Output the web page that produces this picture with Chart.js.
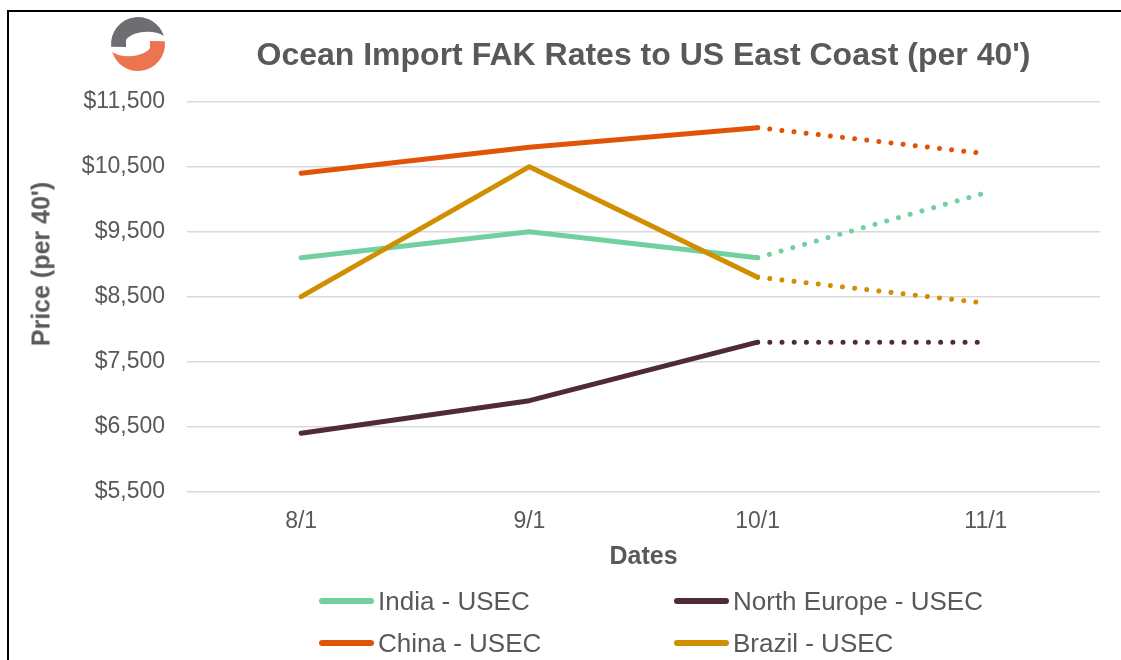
<!DOCTYPE html>
<html>
<head>
<meta charset="utf-8">
<script src="https://cdn.jsdelivr.net/npm/chart.js@4.4.0/dist/chart.umd.min.js"></script>
<style>
  html, body { margin: 0; padding: 0; background: #fff; overflow: hidden; }
  body { width: 1121px; height: 660px; position: relative; font-family: "Liberation Sans", Arial, sans-serif; }
  #frame { position: absolute; left: 7px; top: 10px; width: 1120px; height: 700px;
           border-top: 2px solid #000; border-left: 2px solid #000; box-sizing: border-box; }
  #chart { position: absolute; left: 0; top: 0; }
  #ytitle { position: absolute; left: 41px; top: 264px; transform: translate(-50%, -50%) rotate(-90deg);
            font-weight: bold; font-size: 25px; color: #595959; white-space: nowrap; }
  .leg { position: absolute; height: 30px; line-height: 30px; font-size: 26px; color: #595959; white-space: nowrap; }
  .leg .swatch { position: absolute; left: 0; top: 12px; width: 55px; height: 6px; border-radius: 3px; }
  .leg .txt { position: absolute; left: 59px; top: 0; }
</style>
</head>
<body>
<div id="frame"></div>
<canvas id="chart" width="1121" height="660"></canvas>
<div id="ytitle">Price (per 40')</div>
<div id="legend"></div>
<script>
const categories = ["8/1", "9/1", "10/1", "11/1"];
const india       = [9100, 9500, 9100, 10100];
const northEurope = [6400, 6900, 7800, 7800];
const china       = [10400, 10800, 11100, 10700];
const brazil      = [8500, 10500, 8800, 8400];

const seriesNames  = ["India - USEC", "North Europe - USEC", "China - USEC", "Brazil - USEC"];
const seriesValues = [india, northEurope, china, brazil];
const seriesColors = ["#72cf9e", "#4e2a3b", "#e15407", "#d08f00"];

const yMin = 5500, yMax = 11500, yStep = 1000;
const forecastFrom = 2; // segments after 10/1 are projections (dotted)

const textGrey = "#595959";
const fontFamily = "'Liberation Sans', Arial, sans-serif";

// little company mark in the top-left corner
const logoPlugin = {
    id: "logo",
    afterDraw(chart) {
        const c = chart.ctx;
        const cx = 138, cy = 44;
        function half(flip, color) {
            c.save();
            c.translate(cx, cy);
            if (flip) c.rotate(Math.PI);
            c.beginPath();
            c.arc(0, 0, 27, Math.PI - 0.1, 2 * Math.PI - 0.3);
            c.bezierCurveTo(16, -15, -6, -13, -12, -4);
            c.lineTo(-12, 3);
            c.closePath();
            c.fillStyle = color;
            c.fill();
            c.restore();
        }
        half(false, "#6d6e71");
        half(true, "#ec7450");
    }
};

const datasets = seriesNames.map((name, i) => ({
    label: name,
    data: seriesValues[i],
    borderColor: seriesColors[i],
    backgroundColor: seriesColors[i],
    borderWidth: 5,
    borderCapStyle: "round",
    borderJoinStyle: "round",
    pointRadius: 0,
    pointHoverRadius: 0,
    tension: 0,
    order: seriesNames.length - 1 - i,
    segment: {
        borderDash: ctx => ctx.p0DataIndex >= forecastFrom ? [0.001, 12.2] : undefined
    }
}));

new Chart(document.getElementById("chart").getContext("2d"), {
    type: "line",
    data: { labels: categories, datasets },
    plugins: [logoPlugin],
    options: {
        responsive: false,
        animation: false,
        layout: { padding: { left: 67, right: 21, top: 0, bottom: 86.3 } },
        plugins: {
            legend: { display: false },
            tooltip: { enabled: false },
            title: {
                display: true,
                fullSize: false,
                text: "Ocean Import FAK Rates to US East Coast (per 40')",
                color: textGrey,
                font: { family: fontFamily, size: 32, weight: "bold" },
                padding: { top: 37, bottom: 26.3 }
            }
        },
        scales: {
            x: {
                offset: true,
                grid: { display: false, drawTicks: false },
                border: { display: false },
                ticks: {
                    color: textGrey,
                    padding: 16.5,
                    font: { family: fontFamily, size: 23 }
                },
                title: {
                    display: true,
                    text: "Dates",
                    color: textGrey,
                    font: { family: fontFamily, size: 25, weight: "bold" },
                    padding: { top: 0, bottom: 1.7 }
                },
                afterFit(scale) { scale.height = 82; }
            },
            y: {
                min: yMin,
                max: yMax,
                grid: { color: "#d9d9d9", lineWidth: 1.5, drawTicks: false },
                border: { display: false },
                ticks: {
                    stepSize: yStep,
                    color: textGrey,
                    padding: 22,
                    font: { family: fontFamily, size: 23 },
                    callback: v => "$" + v.toLocaleString("en-US")
                },
                afterFit(scale) { scale.width = 120; }
            }
        }
    }
});

// two-column legend under the axis title
const legendPos = [[319, 586], [674, 586], [319, 628], [674, 628]];
const legendEl = document.getElementById("legend");
seriesNames.forEach((name, i) => {
    const item = document.createElement("div");
    item.className = "leg";
    item.style.left = legendPos[i][0] + "px";
    item.style.top = legendPos[i][1] + "px";
    item.innerHTML = '<span class="swatch" style="background:' + seriesColors[i] + '"></span><span class="txt"></span>';
    item.querySelector(".txt").textContent = name;
    legendEl.appendChild(item);
});
</script>
</body>
</html>
